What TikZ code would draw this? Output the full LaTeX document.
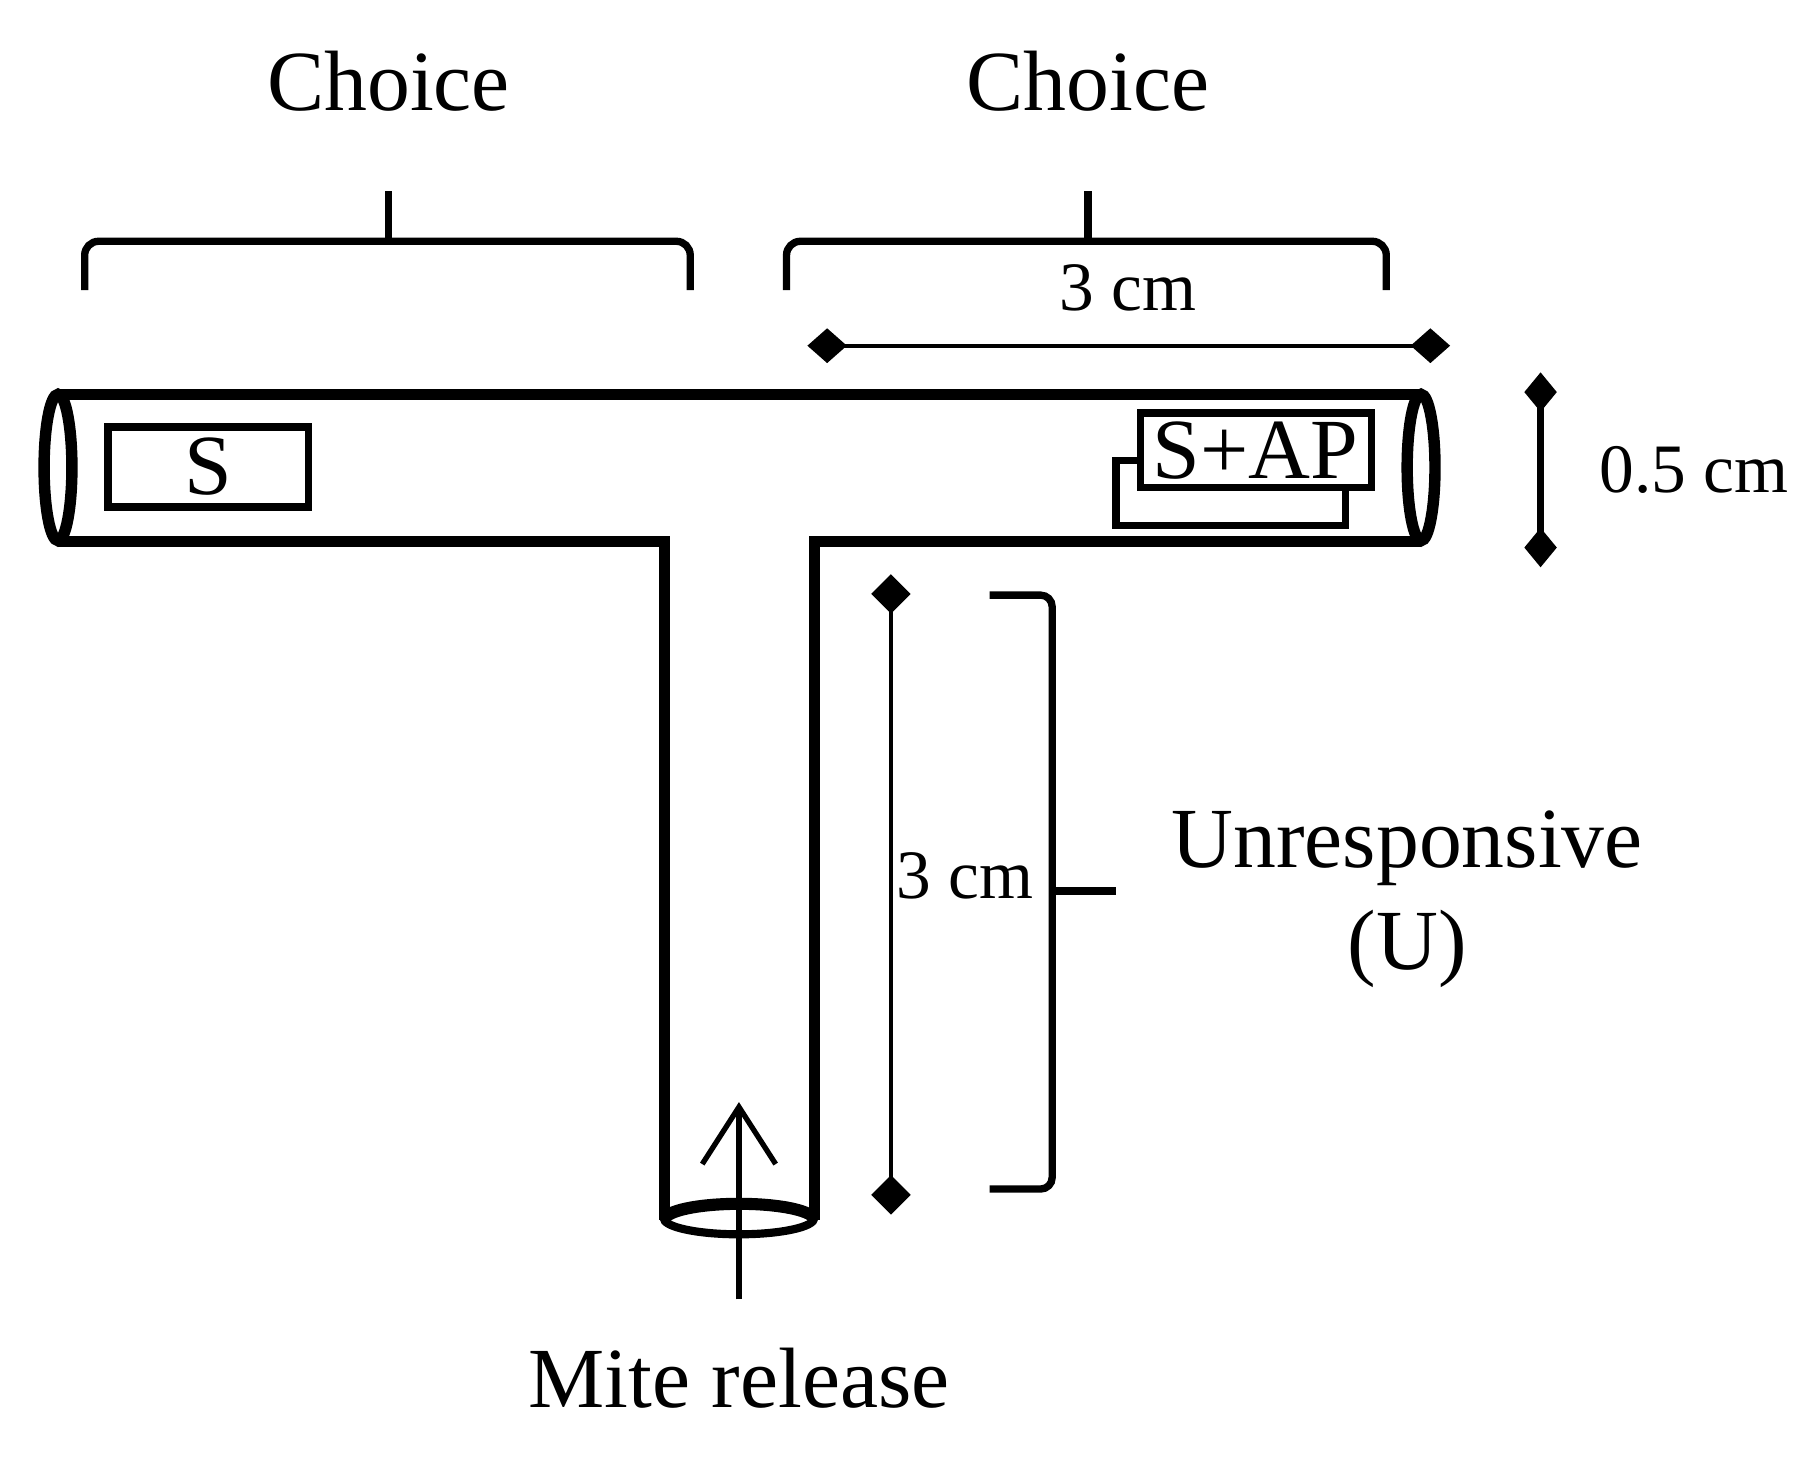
\documentclass[tikz,border=0pt]{standalone}
\usetikzlibrary{arrows.meta}
\usepackage{fontspec}
\setmainfont{Liberation Serif}
\begin{document}
\begin{tikzpicture}[x=0.01cm,y=-0.01cm,
  thick line/.style={line width=2.8pt},
  brace/.style={line width=1.8pt},
  dim/.style={line width=1pt},
  lbl/.style={font=\fontsize{21}{25}\selectfont, inner sep=0pt},
  slbl/.style={font=\fontsize{17}{20}\selectfont, inner sep=0pt}]
\useasboundingbox (0,0) rectangle (1568,1270);
% labels
\node[lbl] (c1) at (335,70) {Choice};
\node[lbl] (c2) at (938,70) {Choice};
% braces
\draw[brace] (73,250) -- (73,220) to[out=90,in=180] (85,208) -- (583,208) to[out=0,in=90] (595,220) -- (595,250);
\draw[brace] (335,208) -- (335,165);
\draw[brace] (678,250) -- (678,220) to[out=90,in=180] (690,208) -- (1183,208) to[out=0,in=90] (1195,220) -- (1195,250);
\draw[brace] (938,208) -- (938,165);
\node[slbl] (d1) at (972,248) {3 cm};
% horizontal dim
\coordinate (h1) at (713,298); \coordinate (h2) at (1233,298);
\draw[dim] (h1) -- (h2);
\fill (h1) ++(-17,0) -- ++(17,-15) -- ++(17,15) -- ++(-17,15) -- cycle;
\fill (h2) ++(-17,0) -- ++(17,-15) -- ++(17,15) -- ++(-17,15) -- cycle;
% tube
\draw[thick line] (50,340) -- (1225,340);
\draw[thick line] (50,467) -- (573,467) -- (573,1052);
\draw[thick line] (702,1052) -- (702,467) -- (1225,467);
\draw[thick line] (50,403) ellipse [x radius=12, y radius=63];
\draw[thick line] (1225,403) ellipse [x radius=12, y radius=63];
\draw[line width=2pt] (637,1050) ellipse [x radius=65, y radius=14];
\draw[thick line] (573,1052) arc[start angle=180,end angle=360,x radius=64.5,y radius=14];
% boxes
\draw[line width=1.8pt] (93,368) rectangle (266,437);
\node[lbl] (s) at (180,402) {S};
\draw[line width=1.8pt,fill=white] (962,397) rectangle (1160,453);
\draw[line width=1.8pt,fill=white] (983,356) rectangle (1182,420);
\node[lbl] (sap) at (1082,388) {S+AP};
% 0.5 cm
\coordinate (v1) at (1328,338); \coordinate (v2) at (1328,472);
\draw[brace] (v1) -- (v2);
\fill (v1) ++(-14,0) -- ++(14,-17) -- ++(14,17) -- ++(-14,17) -- cycle;
\fill (v2) ++(-14,0) -- ++(14,-17) -- ++(14,17) -- ++(-14,17) -- cycle;
\node[slbl] (d2) at (1460,405) {0.5 cm};
% vertical 3 cm
\coordinate (w1) at (768,512); \coordinate (w2) at (768,1030);
\draw[dim] (w1) -- (w2);
\fill (w1) ++(-17,0) -- ++(17,-17) -- ++(17,17) -- ++(-17,17) -- cycle;
\fill (w2) ++(-17,0) -- ++(17,-17) -- ++(17,17) -- ++(-17,17) -- cycle;
\node[slbl,fill=white] (d3) at (832,755) {3 cm};
% bracket
\draw[brace] (853,513) -- (897,513) to[out=0,in=90] (907,523) -- (907,1015) to[out=-90,in=0] (897,1025) -- (853,1025);
\draw[brace] (907,768) -- (962,768);
\node[lbl,align=center] (u) at (1213,775) {Unresponsive\\(U)};
% arrow
\coordinate (a0) at (637,1120);
\node[lbl] (m) at (637,1188) {Mite release};
\draw[line width=1.3pt,-{Straight Barb[length=14pt,width=18pt]}] (a0) -- (637,950);
\end{tikzpicture}
\end{document}
